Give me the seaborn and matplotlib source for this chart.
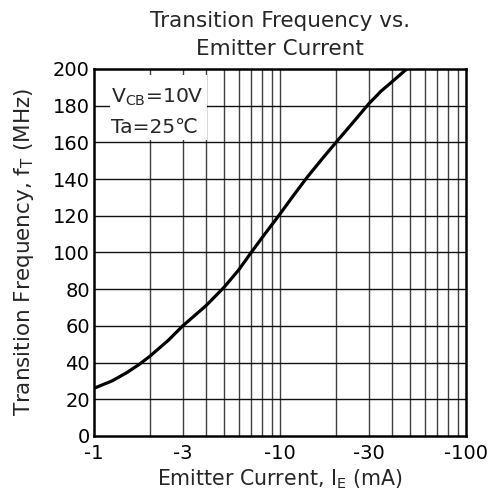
import numpy as np
import pandas as pd
import matplotlib
matplotlib.use("Agg")
import matplotlib.pyplot as plt
import seaborn as sns
from matplotlib.patches import Rectangle
from matplotlib.ticker import FixedLocator, NullFormatter, FixedFormatter

# ---- data ----
current_ma = [1, 1.25, 1.5, 1.75, 2, 2.5, 3, 4, 5, 6, 7, 8, 10, 12, 14, 17, 20, 25, 30, 35, 40, 45, 48]
ft_mhz = [26, 30, 34.5, 39, 43.5, 52, 60, 71, 81, 90.5, 100, 108, 121, 132, 141, 151.5, 160, 171.5, 181, 188, 193, 197.5, 200]
x_tick_vals = [1, 3, 10, 30, 100]
x_tick_labels = ["-1", "-3", "-10", "-30", "-100"]
y_tick_vals = [0, 20, 40, 60, 80, 100, 120, 140, 160, 180, 200]
x_grid = [2, 3, 4, 5, 6, 7, 8, 9, 10, 20, 30, 40, 50, 60, 70, 80, 90]

sns.set_style("white")
plt.rcParams['font.family'] = ['DejaVu Sans']
plt.rcParams['mathtext.fontset'] = 'dejavusans'

df = pd.DataFrame({"I": current_ma, "f": ft_mhz})

fig = plt.figure(figsize=(4.88, 4.96), dpi=100)
ax = fig.add_axes([0.1926, 0.121, 0.7624, 0.740])

ax.set_xscale("log")
ax.set_xlim(1, 100)
ax.set_ylim(0, 200)

# grid
for xv in x_grid:
    ax.axvline(xv, color="#404040", lw=1.0, zorder=1)
for yv in y_tick_vals[1:-1]:
    ax.axhline(yv, color="#111111", lw=1.0, zorder=1)

sns.lineplot(data=df, x="I", y="f", ax=ax, color="black", lw=2.3, zorder=3)

ax.xaxis.set_major_locator(FixedLocator(x_tick_vals))
ax.xaxis.set_major_formatter(FixedFormatter(x_tick_labels))
ax.xaxis.set_minor_locator(FixedLocator([]))
ax.xaxis.set_minor_formatter(NullFormatter())
ax.set_yticks(y_tick_vals)
ax.tick_params(axis="x", length=0, labelsize=14, pad=6, colors="black")
ax.tick_params(axis="y", length=0, labelsize=14, pad=3, colors="black")

for s in ax.spines.values():
    s.set_visible(True)
    s.set_color("black")
    s.set_linewidth(1.8)
    s.set_zorder(5)

ax.set_xlabel(r"Emitter Current, I$_{\mathrm{E}}$ (mA)", fontsize=14.8, labelpad=3)
ax.set_ylabel(r"Transition Frequency, f$_{\mathrm{T}}$ (MHz)", fontsize=15.5, labelpad=12)
ax.set_title("Transition Frequency vs.\nEmitter Current", fontsize=15.5, pad=10, linespacing=1.5)

# condition box
ax.add_patch(Rectangle((0.043, 0.806), 0.261, 0.178, transform=ax.transAxes,
                       facecolor="white", edgecolor="none", zorder=2.5))
ax.text(0.046, 0.907, "V$_{\\mathrm{CB}}$=10V", transform=ax.transAxes,
        fontsize=14.6, ha="left", va="baseline", zorder=4)
ax.text(0.046, 0.826, "Ta=25\u2103", transform=ax.transAxes,
        fontsize=14.6, ha="left", va="baseline", zorder=4)

fig.savefig("out.png", dpi=100)
